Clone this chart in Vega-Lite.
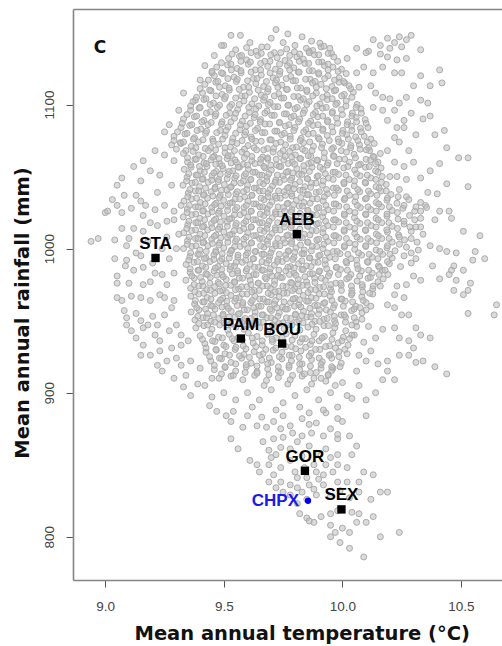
{
"$schema":"https://vega.github.io/schema/vega-lite/v6.json",
"width":429,"height":571,
"autosize":{"type":"none"},
"padding":{"left":73,"top":9,"right":0,"bottom":66},
"background":"white",
"config":{"view":{"stroke":null},"axis":{"grid":false}},
"datasets":{
"sites":[{"site":"AEB","t":9.808,"r":1010},{"site":"STA","t":9.212,"r":993.5},{"site":"PAM","t":9.572,"r":937.6},{"site":"BOU","t":9.746,"r":934.1},{"site":"GOR","t":9.842,"r":845.8},{"site":"SEX","t":9.996,"r":819}],
"chpx":[{"site":"CHPX","t":9.855,"r":825}],
"panel":[{"lab":"C","t":8.978,"r":1139.4}],
"cloud":[
{"t":9.53,"r":1148},{"t":9.57,"r":1148},{"t":9.5,"r":1141},{"t":9.61,"r":1143},{"t":9.66,"r":1140},{"t":9.72,"r":1152},{"t":9.7,"r":1146},{"t":9.77,"r":1149},{"t":9.75,"r":1143},{"t":9.83,"r":1147},{"t":9.8,"r":1141},{"t":9.87,"r":1144},{"t":9.91,"r":1140},{"t":9.86,"r":1137},
{"t":10.13,"r":1145},{"t":10.16,"r":1141},{"t":10.19,"r":1146},{"t":10.22,"r":1143},{"t":10.24,"r":1147},{"t":10.27,"r":1145},{"t":10.29,"r":1148},{"t":10.2,"r":1139},{"t":10.25,"r":1140},{"t":10.33,"r":1138},{"t":10.11,"r":1137},{"t":10.06,"r":1139},
{"t":9.905,"r":1142.6},{"t":9.947,"r":1139},{"t":10.02,"r":1132},{"t":10.1,"r":1136},{"t":10.16,"r":1135},{"t":10.19,"r":1133},{"t":10.23,"r":1131},{"t":10.27,"r":1132},{"t":10.41,"r":1124},{"t":10.33,"r":1120},{"t":10.42,"r":1115},{"t":10.37,"r":1113},{"t":10.3,"r":1113},{"t":10.25,"r":1122},{"t":10.22,"r":1122},{"t":10.17,"r":1126},{"t":10.13,"r":1122},{"t":10.09,"r":1126},{"t":10.06,"r":1122},{"t":10.01,"r":1115},{"t":10.07,"r":1112},{"t":10.12,"r":1113},{"t":10.14,"r":1108},{"t":10.17,"r":1105},{"t":10.2,"r":1104},{"t":10.24,"r":1101},{"t":10.27,"r":1105},{"t":10.33,"r":1103},{"t":10.36,"r":1101},{"t":10.34,"r":1090},{"t":10.37,"r":1092},{"t":10.29,"r":1094},{"t":10.26,"r":1089},{"t":10.22,"r":1096},{"t":10.17,"r":1096},{"t":10.13,"r":1098},{"t":10.19,"r":1089},{"t":10.23,"r":1084},{"t":10.26,"r":1084},{"t":10.31,"r":1079},{"t":10.39,"r":1079},{"t":10.43,"r":1082},{"t":10.44,"r":1070},{"t":10.49,"r":1063},{"t":10.53,"r":1063},{"t":10.41,"r":1059},{"t":10.37,"r":1054},{"t":10.33,"r":1049},{"t":10.36,"r":1039},{"t":10.4,"r":1038},{"t":10.44,"r":1045},{"t":10.53,"r":1043},{"t":10.3,"r":1060},{"t":10.28,"r":1068},{"t":10.24,"r":1074},{"t":10.22,"r":1077},{"t":10.22,"r":1060},{"t":10.26,"r":1057},{"t":10.23,"r":1050},{"t":10.27,"r":1048},{"t":10.24,"r":1041},{"t":10.27,"r":1036},{"t":10.2,"r":1050},{"t":10.19,"r":1068},{"t":10.16,"r":1066},
{"t":9.45,"r":1122},{"t":9.33,"r":1108},{"t":9.25,"r":1081},{"t":9.32,"r":1073},{"t":9.16,"r":1061},{"t":9.12,"r":1057},{"t":9.05,"r":1044},{"t":9.0,"r":1025},{"t":9.07,"r":1049},{"t":9.4,"r":1117},{"t":9.38,"r":1103},{"t":9.31,"r":1096},{"t":9.27,"r":1086},{"t":9.21,"r":1068},{"t":9.25,"r":1065},{"t":9.19,"r":1054},{"t":9.15,"r":1047},{"t":9.08,"r":1037},{"t":9.13,"r":1037},{"t":9.03,"r":1034},{"t":9.23,"r":1051},{"t":9.29,"r":1061},{"t":9.28,"r":1044},{"t":9.22,"r":1039},{"t":9.17,"r":1030},{"t":9.46,"r":1134},{"t":9.49,"r":1141},{"t":9.42,"r":1127},
{"t":8.94,"r":1005},{"t":8.97,"r":1007},{"t":9.04,"r":1006},{"t":9.04,"r":993},{"t":9.09,"r":1002},{"t":9.09,"r":992},{"t":9.15,"r":995},{"t":9.085,"r":988},{"t":9.12,"r":985},{"t":9.16,"r":987},{"t":9.05,"r":981},{"t":9.05,"r":976},{"t":9.1,"r":976},{"t":9.05,"r":966},{"t":9.07,"r":964},{"t":9.11,"r":967},{"t":9.15,"r":966},{"t":9.16,"r":975},{"t":9.19,"r":977},{"t":9.21,"r":983},{"t":9.23,"r":968},{"t":9.19,"r":964},{"t":9.08,"r":957},{"t":9.09,"r":952},{"t":9.13,"r":955},{"t":9.15,"r":950},{"t":9.09,"r":947},{"t":9.11,"r":943},{"t":9.16,"r":945},{"t":9.2,"r":953},{"t":9.18,"r":947},{"t":9.22,"r":947},{"t":9.25,"r":954},{"t":9.28,"r":959},{"t":9.29,"r":964},{"t":9.25,"r":966},{"t":9.26,"r":975},{"t":9.29,"r":983},{"t":9.24,"r":982},{"t":9.13,"r":938},{"t":9.16,"r":933},{"t":9.21,"r":940},{"t":9.23,"r":936},{"t":9.27,"r":943},{"t":9.3,"r":947},{"t":9.32,"r":940},{"t":9.15,"r":926},{"t":9.19,"r":926},{"t":9.23,"r":929},{"t":9.28,"r":931},{"t":9.32,"r":933},{"t":9.35,"r":936},{"t":9.22,"r":919},{"t":9.26,"r":922},{"t":9.3,"r":924},{"t":9.24,"r":915},{"t":9.32,"r":919},{"t":9.36,"r":922},{"t":9.29,"r":910},{"t":9.34,"r":912},{"t":9.4,"r":917},{"t":9.45,"r":910},{"t":9.39,"r":906},
{"t":9.01,"r":1026},{"t":9.05,"r":1030},{"t":9.07,"r":1025},{"t":9.11,"r":1028},{"t":9.15,"r":1033},{"t":9.16,"r":1023},{"t":9.21,"r":1027},{"t":9.25,"r":1030},{"t":9.22,"r":1016},{"t":9.26,"r":1019},{"t":9.29,"r":1026},{"t":9.32,"r":1030},{"t":9.16,"r":1012},{"t":9.12,"r":1014},{"t":9.07,"r":1014},{"t":9.1,"r":1007},{"t":9.3,"r":1000},{"t":9.27,"r":993},{"t":9.31,"r":1010},{"t":9.29,"r":1020},{"t":9.19,"r":1018},{"t":9.24,"r":1000},{"t":9.2,"r":990},{"t":9.18,"r":1005},{"t":9.13,"r":997},{"t":9.26,"r":1008},
{"t":10.41,"r":1026},{"t":10.45,"r":1026},{"t":10.46,"r":1021},{"t":10.51,"r":1012},{"t":10.58,"r":1009},{"t":10.41,"r":1000},{"t":10.44,"r":998},{"t":10.48,"r":997},{"t":10.56,"r":998},{"t":10.55,"r":992},{"t":10.6,"r":993},{"t":10.51,"r":985},{"t":10.47,"r":988},{"t":10.45,"r":982},{"t":10.48,"r":978},{"t":10.54,"r":976},{"t":10.53,"r":971},{"t":10.51,"r":968},{"t":10.47,"r":971},{"t":10.46,"r":985},{"t":10.41,"r":979},{"t":10.38,"r":988},{"t":10.37,"r":1002},{"t":10.33,"r":978},{"t":10.65,"r":961},{"t":10.64,"r":954},{"t":10.53,"r":955},{"t":10.3,"r":981},{"t":10.27,"r":975},{"t":10.23,"r":974},{"t":10.22,"r":968},{"t":10.26,"r":966},{"t":10.28,"r":954},{"t":10.25,"r":954},{"t":10.22,"r":959},{"t":10.19,"r":961},{"t":10.31,"r":945},{"t":10.37,"r":938},{"t":10.33,"r":940},{"t":10.28,"r":936},{"t":10.3,"r":931},{"t":10.24,"r":938},{"t":10.22,"r":945},{"t":10.34,"r":922},{"t":10.39,"r":918},{"t":10.44,"r":913},{"t":10.31,"r":921},{"t":10.28,"r":926},{"t":10.24,"r":926},{"t":10.19,"r":922},{"t":10.15,"r":920},{"t":10.1,"r":922},{"t":10.07,"r":926},{"t":10.12,"r":929},{"t":10.19,"r":915},{"t":10.22,"r":909},{"t":10.17,"r":909},{"t":9.96,"r":917},{"t":9.94,"r":912},{"t":9.91,"r":910},{"t":10.35,"r":1030},{"t":10.39,"r":1020},{"t":10.33,"r":1015},{"t":10.05,"r":940},{"t":10.09,"r":935},{"t":10.14,"r":938},{"t":10.17,"r":944},{"t":10.11,"r":946},{"t":10.06,"r":915},
{"t":9.33,"r":904},{"t":9.36,"r":898},{"t":9.44,"r":891},{"t":9.47,"r":887},{"t":9.51,"r":884},{"t":9.54,"r":887},{"t":9.53,"r":880},{"t":9.6,"r":884},{"t":9.58,"r":876},{"t":9.64,"r":877},{"t":9.66,"r":883},{"t":9.68,"r":876},{"t":9.71,"r":880},{"t":9.75,"r":884},{"t":9.78,"r":877},{"t":9.83,"r":882},{"t":9.86,"r":886},{"t":9.89,"r":879},{"t":9.93,"r":886},{"t":9.98,"r":890},{"t":10.02,"r":898},{"t":10.04,"r":896},{"t":10.1,"r":884},{"t":10.14,"r":900},{"t":9.98,"r":882},{"t":9.95,"r":875},{"t":9.92,"r":870},{"t":9.87,"r":872},{"t":9.83,"r":870},{"t":9.79,"r":872},{"t":9.75,"r":869},{"t":9.71,"r":868},{"t":9.665,"r":866},{"t":9.53,"r":868},{"t":9.56,"r":861},{"t":9.61,"r":853},{"t":9.64,"r":850},{"t":9.65,"r":845},{"t":9.69,"r":850},{"t":9.71,"r":843},{"t":9.74,"r":838},{"t":9.78,"r":836},{"t":9.81,"r":841},{"t":9.85,"r":841},{"t":9.86,"r":836},{"t":9.89,"r":845},{"t":9.92,"r":843},{"t":9.96,"r":845},{"t":9.98,"r":857},{"t":9.98,"r":850},{"t":10.02,"r":848},{"t":10.04,"r":857},{"t":10.02,"r":838},{"t":9.98,"r":838},{"t":10.07,"r":838},{"t":10.09,"r":845},{"t":10.13,"r":843},{"t":10.16,"r":831},{"t":10.19,"r":831},{"t":10.12,"r":826},{"t":10.07,"r":831},{"t":10.06,"r":810},{"t":10.1,"r":810},{"t":10.13,"r":814},{"t":10.16,"r":800},{"t":10.03,"r":803},{"t":10.0,"r":806},{"t":9.97,"r":803},{"t":9.95,"r":800},{"t":9.99,"r":796},{"t":10.03,"r":792},{"t":10.09,"r":786},{"t":9.91,"r":814},{"t":9.88,"r":810},{"t":9.85,"r":813},{"t":9.82,"r":816},{"t":9.81,"r":823},{"t":9.78,"r":829},{"t":9.75,"r":831},{"t":9.83,"r":831},{"t":9.89,"r":829},{"t":9.92,"r":836},{"t":9.95,"r":816},{"t":9.98,"r":818},{"t":10.03,"r":827},{"t":10.04,"r":817},{"t":10.07,"r":816},{"t":9.98,"r":868},{"t":10.0,"r":880},{"t":10.03,"r":870},{"t":10.06,"r":863},{"t":9.93,"r":861},{"t":9.89,"r":858},{"t":9.86,"r":863},{"t":9.81,"r":866},{"t":9.78,"r":861},{"t":9.74,"r":862},{"t":9.72,"r":857},{"t":9.69,"r":860},
{"t":10.24,"r":803},{"t":9.98,"r":871},{"t":9.69,"r":838},{"t":9.72,"r":834},{"t":9.81,"r":834},{"t":9.86,"r":811},{"t":9.95,"r":808},
{"t":9.6,"r":900},{"t":9.65,"r":895},{"t":9.7,"r":902},{"t":9.75,"r":893},{"t":9.8,"r":898},{"t":9.85,"r":902},{"t":9.9,"r":895},{"t":9.95,"r":900},{"t":9.62,"r":890},{"t":9.72,"r":888},{"t":9.82,"r":890},{"t":9.92,"r":888},{"t":9.67,"r":905},{"t":9.77,"r":906},{"t":9.87,"r":906},{"t":9.97,"r":905},{"t":9.55,"r":895},{"t":9.5,"r":900},{"t":9.45,"r":897},{"t":9.42,"r":905},{"t":10.07,"r":905},{"t":10.0,"r":907},{"t":10.1,"r":895},{"t":9.74,"r":875},{"t":9.86,"r":878},{"t":9.95,"r":855},{"t":9.88,"r":850},{"t":9.83,"r":856},{"t":9.78,"r":853},{"t":9.74,"r":848},{"t":9.7,"r":855},{"t":9.8,"r":845},{"t":9.9,"r":840},{"t":9.84,"r":848},{"t":9.93,"r":850},{"t":9.88,"r":833},{"t":9.95,"r":828},{"t":9.99,"r":832},{"t":9.85,"r":826},
{"t":9.55,"r":1138},{"t":9.596,"r":1139.5},{"t":9.636,"r":1137},{"t":9.683,"r":1140},{"t":9.713,"r":1136},{"t":9.765,"r":1138.5},{"t":9.798,"r":1136.5},{"t":9.848,"r":1139},{"t":9.875,"r":1137.5},{"t":9.922,"r":1140.5},{"t":9.954,"r":1135.5},
{"t":9.52,"r":1132},{"t":9.566,"r":1133.5},{"t":9.596,"r":1131},{"t":9.643,"r":1134},{"t":9.673,"r":1130},{"t":9.725,"r":1132.5},{"t":9.758,"r":1130.5},{"t":9.808,"r":1133},{"t":9.835,"r":1131.5},{"t":9.882,"r":1134.5},{"t":9.914,"r":1129.5},{"t":9.964,"r":1133},
{"t":9.47,"r":1126},{"t":9.516,"r":1127.5},{"t":9.556,"r":1125},{"t":9.603,"r":1128},{"t":9.633,"r":1124},{"t":9.685,"r":1126.5},{"t":9.718,"r":1124.5},{"t":9.768,"r":1127},{"t":9.795,"r":1125.5},{"t":9.842,"r":1128.5},{"t":9.874,"r":1123.5},{"t":9.924,"r":1127},{"t":9.96,"r":1126},{"t":9.996,"r":1124.5},
{"t":9.46,"r":1120},{"t":9.496,"r":1121.5},{"t":9.543,"r":1119},{"t":9.573,"r":1122},{"t":9.625,"r":1118},{"t":9.658,"r":1120.5},{"t":9.708,"r":1118.5},{"t":9.735,"r":1121},{"t":9.782,"r":1119.5},{"t":9.814,"r":1122.5},{"t":9.864,"r":1117.5},{"t":9.9,"r":1121},{"t":9.94,"r":1120},{"t":9.986,"r":1118.5},{"t":10.016,"r":1121.5},
{"t":9.42,"r":1114},{"t":9.466,"r":1115.5},{"t":9.506,"r":1113},{"t":9.553,"r":1116},{"t":9.583,"r":1112},{"t":9.635,"r":1114.5},{"t":9.668,"r":1112.5},{"t":9.718,"r":1115},{"t":9.745,"r":1113.5},{"t":9.792,"r":1116.5},{"t":9.824,"r":1111.5},{"t":9.874,"r":1115},{"t":9.91,"r":1114},{"t":9.956,"r":1112.5},{"t":9.986,"r":1115.5},{"t":10.028,"r":1113},
{"t":9.41,"r":1108},{"t":9.446,"r":1109.5},{"t":9.493,"r":1107},{"t":9.523,"r":1110},{"t":9.575,"r":1106},{"t":9.608,"r":1108.5},{"t":9.658,"r":1106.5},{"t":9.685,"r":1109},{"t":9.732,"r":1107.5},{"t":9.764,"r":1110.5},{"t":9.814,"r":1105.5},{"t":9.85,"r":1109},{"t":9.89,"r":1108},{"t":9.936,"r":1106.5},{"t":9.966,"r":1109.5},{"t":10.008,"r":1107},{"t":10.046,"r":1108.5},
{"t":9.37,"r":1102},{"t":9.416,"r":1103.5},{"t":9.456,"r":1101},{"t":9.503,"r":1104},{"t":9.533,"r":1100},{"t":9.585,"r":1102.5},{"t":9.618,"r":1100.5},{"t":9.668,"r":1103},{"t":9.695,"r":1101.5},{"t":9.742,"r":1104.5},{"t":9.774,"r":1099.5},{"t":9.824,"r":1103},{"t":9.86,"r":1102},{"t":9.906,"r":1100.5},{"t":9.936,"r":1103.5},{"t":9.978,"r":1101},{"t":10.016,"r":1102.5},{"t":10.062,"r":1100},
{"t":9.36,"r":1096},{"t":9.396,"r":1097.5},{"t":9.443,"r":1095},{"t":9.473,"r":1098},{"t":9.525,"r":1094},{"t":9.558,"r":1096.5},{"t":9.608,"r":1094.5},{"t":9.635,"r":1097},{"t":9.682,"r":1095.5},{"t":9.714,"r":1098.5},{"t":9.764,"r":1093.5},{"t":9.8,"r":1097},{"t":9.84,"r":1096},{"t":9.886,"r":1094.5},{"t":9.916,"r":1097.5},{"t":9.958,"r":1095},{"t":9.996,"r":1096.5},{"t":10.042,"r":1094},{"t":10.078,"r":1097},
{"t":9.33,"r":1090},{"t":9.376,"r":1091.5},{"t":9.416,"r":1089},{"t":9.463,"r":1092},{"t":9.493,"r":1088},{"t":9.545,"r":1090.5},{"t":9.578,"r":1088.5},{"t":9.628,"r":1091},{"t":9.655,"r":1089.5},{"t":9.702,"r":1092.5},{"t":9.734,"r":1087.5},{"t":9.784,"r":1091},{"t":9.82,"r":1090},{"t":9.866,"r":1088.5},{"t":9.896,"r":1091.5},{"t":9.938,"r":1089},{"t":9.976,"r":1090.5},{"t":10.022,"r":1088},{"t":10.058,"r":1091},{"t":10.096,"r":1089.5},
{"t":9.32,"r":1084},{"t":9.356,"r":1085.5},{"t":9.403,"r":1083},{"t":9.433,"r":1086},{"t":9.485,"r":1082},{"t":9.518,"r":1084.5},{"t":9.568,"r":1082.5},{"t":9.595,"r":1085},{"t":9.642,"r":1083.5},{"t":9.674,"r":1086.5},{"t":9.724,"r":1081.5},{"t":9.76,"r":1085},{"t":9.8,"r":1084},{"t":9.846,"r":1082.5},{"t":9.876,"r":1085.5},{"t":9.918,"r":1083},{"t":9.956,"r":1084.5},{"t":10.002,"r":1082},{"t":10.038,"r":1085},{"t":10.076,"r":1083.5},{"t":10.108,"r":1084},
{"t":9.29,"r":1078},{"t":9.336,"r":1079.5},{"t":9.376,"r":1077},{"t":9.423,"r":1080},{"t":9.453,"r":1076},{"t":9.505,"r":1078.5},{"t":9.538,"r":1076.5},{"t":9.588,"r":1079},{"t":9.615,"r":1077.5},{"t":9.662,"r":1080.5},{"t":9.694,"r":1075.5},{"t":9.744,"r":1079},{"t":9.78,"r":1078},{"t":9.826,"r":1076.5},{"t":9.856,"r":1079.5},{"t":9.898,"r":1077},{"t":9.936,"r":1078.5},{"t":9.982,"r":1076},{"t":10.018,"r":1079},{"t":10.056,"r":1077.5},{"t":10.092,"r":1078},{"t":10.12,"r":1076},
{"t":9.28,"r":1072},{"t":9.316,"r":1073.5},{"t":9.363,"r":1071},{"t":9.393,"r":1074},{"t":9.445,"r":1070},{"t":9.478,"r":1072.5},{"t":9.528,"r":1070.5},{"t":9.555,"r":1073},{"t":9.602,"r":1071.5},{"t":9.634,"r":1074.5},{"t":9.684,"r":1069.5},{"t":9.72,"r":1073},{"t":9.76,"r":1072},{"t":9.806,"r":1070.5},{"t":9.836,"r":1073.5},{"t":9.878,"r":1071},{"t":9.916,"r":1072.5},{"t":9.962,"r":1070},{"t":9.998,"r":1073},{"t":10.036,"r":1071.5},{"t":10.072,"r":1072},{"t":10.11,"r":1070},{"t":10.134,"r":1073},
{"t":9.535,"r":1135},{"t":9.575,"r":1134},{"t":9.615,"r":1136},{"t":9.658,"r":1135.5},{"t":9.698,"r":1134.5},{"t":9.74,"r":1136},{"t":9.778,"r":1134},{"t":9.82,"r":1135},{"t":9.86,"r":1136},{"t":9.9,"r":1134.5},{"t":9.94,"r":1135.5},
{"t":9.49,"r":1129},{"t":9.53,"r":1128},{"t":9.572,"r":1130},{"t":9.612,"r":1129.5},{"t":9.655,"r":1128.5},{"t":9.695,"r":1130},{"t":9.735,"r":1128},{"t":9.777,"r":1129},{"t":9.818,"r":1130},{"t":9.858,"r":1128.5},{"t":9.9,"r":1129.5},{"t":9.94,"r":1128},{"t":9.98,"r":1130},
{"t":9.45,"r":1123},{"t":9.49,"r":1122},{"t":9.532,"r":1124},{"t":9.572,"r":1123.5},{"t":9.615,"r":1122.5},{"t":9.655,"r":1124},{"t":9.695,"r":1122},{"t":9.737,"r":1123},{"t":9.778,"r":1124},{"t":9.818,"r":1122.5},{"t":9.86,"r":1123.5},{"t":9.9,"r":1122},{"t":9.94,"r":1124},{"t":9.982,"r":1123},
{"t":9.435,"r":1117},{"t":9.475,"r":1116},{"t":9.517,"r":1118},{"t":9.557,"r":1117.5},{"t":9.6,"r":1116.5},{"t":9.64,"r":1118},{"t":9.68,"r":1116},{"t":9.722,"r":1117},{"t":9.763,"r":1118},{"t":9.803,"r":1116.5},{"t":9.845,"r":1117.5},{"t":9.885,"r":1116},{"t":9.925,"r":1118},{"t":9.967,"r":1117},{"t":10.005,"r":1116},
{"t":9.4,"r":1111},{"t":9.44,"r":1110},{"t":9.482,"r":1112},{"t":9.522,"r":1111.5},{"t":9.565,"r":1110.5},{"t":9.605,"r":1112},{"t":9.645,"r":1110},{"t":9.687,"r":1111},{"t":9.728,"r":1112},{"t":9.768,"r":1110.5},{"t":9.81,"r":1111.5},{"t":9.85,"r":1110},{"t":9.89,"r":1112},{"t":9.932,"r":1111},{"t":9.972,"r":1110},{"t":10.035,"r":1111},
{"t":9.385,"r":1105},{"t":9.425,"r":1104},{"t":9.467,"r":1106},{"t":9.507,"r":1105.5},{"t":9.55,"r":1104.5},{"t":9.59,"r":1106},{"t":9.63,"r":1104},{"t":9.672,"r":1105},{"t":9.713,"r":1106},{"t":9.753,"r":1104.5},{"t":9.795,"r":1105.5},{"t":9.835,"r":1104},{"t":9.875,"r":1106},{"t":9.917,"r":1105},{"t":9.957,"r":1104},{"t":9.997,"r":1106},{"t":10.04,"r":1105},
{"t":9.36,"r":1099},{"t":9.4,"r":1098},{"t":9.442,"r":1100},{"t":9.482,"r":1099.5},{"t":9.525,"r":1098.5},{"t":9.565,"r":1100},{"t":9.605,"r":1098},{"t":9.647,"r":1099},{"t":9.688,"r":1100},{"t":9.728,"r":1098.5},{"t":9.77,"r":1099.5},{"t":9.81,"r":1098},{"t":9.85,"r":1100},{"t":9.892,"r":1099},{"t":9.932,"r":1098},{"t":9.972,"r":1100},{"t":10.015,"r":1099},{"t":10.058,"r":1098},
{"t":9.345,"r":1093},{"t":9.385,"r":1092},{"t":9.427,"r":1094},{"t":9.467,"r":1093.5},{"t":9.51,"r":1092.5},{"t":9.55,"r":1094},{"t":9.59,"r":1092},{"t":9.632,"r":1093},{"t":9.673,"r":1094},{"t":9.713,"r":1092.5},{"t":9.755,"r":1093.5},{"t":9.795,"r":1092},{"t":9.835,"r":1094},{"t":9.877,"r":1093},{"t":9.917,"r":1092},{"t":9.957,"r":1094},{"t":10.0,"r":1093},{"t":10.04,"r":1092},{"t":10.08,"r":1094},
{"t":9.325,"r":1087},{"t":9.365,"r":1086},{"t":9.407,"r":1088},{"t":9.447,"r":1087.5},{"t":9.49,"r":1086.5},{"t":9.53,"r":1088},{"t":9.57,"r":1086},{"t":9.612,"r":1087},{"t":9.653,"r":1088},{"t":9.693,"r":1086.5},{"t":9.735,"r":1087.5},{"t":9.775,"r":1086},{"t":9.815,"r":1088},{"t":9.857,"r":1087},{"t":9.897,"r":1086},{"t":9.937,"r":1088},{"t":9.98,"r":1087},{"t":10.02,"r":1086},{"t":10.06,"r":1088},{"t":10.1,"r":1087},
{"t":9.305,"r":1081},{"t":9.345,"r":1080},{"t":9.387,"r":1082},{"t":9.427,"r":1081.5},{"t":9.47,"r":1080.5},{"t":9.51,"r":1082},{"t":9.55,"r":1080},{"t":9.592,"r":1081},{"t":9.633,"r":1082},{"t":9.673,"r":1080.5},{"t":9.715,"r":1081.5},{"t":9.755,"r":1080},{"t":9.795,"r":1082},{"t":9.837,"r":1081},{"t":9.877,"r":1080},{"t":9.917,"r":1082},{"t":9.96,"r":1081},{"t":10.0,"r":1080},{"t":10.04,"r":1082},{"t":10.08,"r":1081},
{"t":9.29,"r":1075},{"t":9.33,"r":1074},{"t":9.372,"r":1076},{"t":9.412,"r":1075.5},{"t":9.455,"r":1074.5},{"t":9.495,"r":1076},{"t":9.535,"r":1074},{"t":9.577,"r":1075},{"t":9.618,"r":1076},{"t":9.658,"r":1074.5},{"t":9.7,"r":1075.5},{"t":9.74,"r":1074},{"t":9.78,"r":1076},{"t":9.822,"r":1075},{"t":9.862,"r":1074},{"t":9.902,"r":1076},{"t":9.945,"r":1075},{"t":9.985,"r":1074},{"t":10.025,"r":1076},{"t":10.065,"r":1075},{"t":10.105,"r":1074},
{"t":9.3,"r":1069},{"t":9.34,"r":1068},{"t":9.382,"r":1070},{"t":9.422,"r":1069.5},{"t":9.465,"r":1068.5},{"t":9.505,"r":1070},{"t":9.545,"r":1068},{"t":9.587,"r":1069},{"t":9.628,"r":1070},{"t":9.668,"r":1068.5},{"t":9.71,"r":1069.5},{"t":9.75,"r":1068},{"t":9.79,"r":1070},{"t":9.832,"r":1069},{"t":9.872,"r":1068},{"t":9.912,"r":1070},{"t":9.955,"r":1069},{"t":9.995,"r":1068},{"t":10.035,"r":1070},{"t":10.075,"r":1069},{"t":10.115,"r":1068},
{"t":9.33,"r":1066},{"t":9.37,"r":1067.5},{"t":9.394,"r":1065},{"t":9.435,"r":1068},{"t":9.459,"r":1064},{"t":9.505,"r":1066.5},{"t":9.532,"r":1064.5},{"t":9.576,"r":1067},{"t":9.597,"r":1065.5},{"t":9.638,"r":1068.5},{"t":9.664,"r":1063.5},{"t":9.708,"r":1067},{"t":9.738,"r":1066},{"t":9.778,"r":1067.5},{"t":9.802,"r":1065},{"t":9.843,"r":1068},{"t":9.867,"r":1064},{"t":9.924,"r":1066.5},{"t":9.962,"r":1064.5},{"t":10.017,"r":1067},{"t":10.049,"r":1065.5},{"t":10.101,"r":1068.5},{"t":10.134,"r":1063.5},
{"t":9.347,"r":1060},{"t":9.378,"r":1062},{"t":9.416,"r":1059.5},{"t":9.446,"r":1061.5},{"t":9.483,"r":1059},{"t":9.514,"r":1062.5},{"t":9.553,"r":1060},{"t":9.582,"r":1058.5},{"t":9.618,"r":1061},{"t":9.654,"r":1059.5},{"t":9.685,"r":1062},{"t":9.722,"r":1058},{"t":9.752,"r":1061.5},{"t":9.789,"r":1060},{"t":9.82,"r":1062.5},{"t":9.857,"r":1059},{"t":9.896,"r":1061},{"t":9.94,"r":1059.5},{"t":9.987,"r":1062},{"t":10.03,"r":1060},{"t":10.076,"r":1058.5},{"t":10.118,"r":1061.5},{"t":10.15,"r":1060},
{"t":9.333,"r":1055},{"t":9.362,"r":1056.5},{"t":9.401,"r":1054},{"t":9.429,"r":1057},{"t":9.468,"r":1053.5},{"t":9.497,"r":1055.5},{"t":9.537,"r":1054},{"t":9.566,"r":1056.5},{"t":9.604,"r":1055},{"t":9.633,"r":1053},{"t":9.673,"r":1056},{"t":9.7,"r":1054.5},{"t":9.741,"r":1057},{"t":9.771,"r":1053.5},{"t":9.808,"r":1055.5},{"t":9.838,"r":1054},{"t":9.872,"r":1056.5},{"t":9.918,"r":1055},{"t":9.961,"r":1053},{"t":10.006,"r":1056},{"t":10.052,"r":1054.5},{"t":10.097,"r":1056.5},{"t":10.14,"r":1054},{"t":10.163,"r":1056},
{"t":9.345,"r":1049.5},{"t":9.383,"r":1051},{"t":9.412,"r":1048.5},{"t":9.45,"r":1050.5},{"t":9.478,"r":1048},{"t":9.517,"r":1051.5},{"t":9.546,"r":1049},{"t":9.586,"r":1050.5},{"t":9.613,"r":1048},{"t":9.651,"r":1051},{"t":9.682,"r":1049.5},{"t":9.719,"r":1047.5},{"t":9.749,"r":1050.5},{"t":9.787,"r":1049},{"t":9.816,"r":1051.5},{"t":9.853,"r":1048.5},{"t":9.893,"r":1050},{"t":9.941,"r":1049},{"t":9.984,"r":1051.5},{"t":10.029,"r":1048},{"t":10.075,"r":1050.5},{"t":10.12,"r":1049},{"t":10.168,"r":1050},
{"t":9.328,"r":1044},{"t":9.366,"r":1045.5},{"t":9.398,"r":1043},{"t":9.434,"r":1046},{"t":9.463,"r":1042.5},{"t":9.502,"r":1044.5},{"t":9.531,"r":1043},{"t":9.571,"r":1045.5},{"t":9.6,"r":1044},{"t":9.637,"r":1042},{"t":9.667,"r":1045},{"t":9.705,"r":1043.5},{"t":9.735,"r":1046},{"t":9.774,"r":1042.5},{"t":9.801,"r":1044.5},{"t":9.842,"r":1043},{"t":9.87,"r":1045.5},{"t":9.916,"r":1044},{"t":9.962,"r":1042},{"t":10.007,"r":1045},{"t":10.05,"r":1043.5},{"t":10.098,"r":1045.5},{"t":10.142,"r":1043},{"t":10.185,"r":1044.5},
{"t":9.35,"r":1038.5},{"t":9.38,"r":1040},{"t":9.417,"r":1037.5},{"t":9.447,"r":1039.5},{"t":9.485,"r":1037},{"t":9.513,"r":1040.5},{"t":9.551,"r":1038},{"t":9.583,"r":1039.5},{"t":9.618,"r":1037},{"t":9.65,"r":1040},{"t":9.687,"r":1038.5},{"t":9.716,"r":1036.5},{"t":9.754,"r":1039.5},{"t":9.786,"r":1038},{"t":9.821,"r":1040.5},{"t":9.851,"r":1037.5},{"t":9.89,"r":1039},{"t":9.937,"r":1038},{"t":9.983,"r":1040.5},{"t":10.03,"r":1037},{"t":10.073,"r":1039.5},{"t":10.119,"r":1038},{"t":10.163,"r":1040},{"t":10.205,"r":1037.5},
{"t":9.332,"r":1033},{"t":9.364,"r":1034.5},{"t":9.401,"r":1032},{"t":9.431,"r":1035},{"t":9.468,"r":1031.5},{"t":9.499,"r":1033.5},{"t":9.536,"r":1032},{"t":9.567,"r":1034.5},{"t":9.602,"r":1033},{"t":9.636,"r":1031},{"t":9.67,"r":1034},{"t":9.703,"r":1032.5},{"t":9.738,"r":1035},{"t":9.77,"r":1031.5},{"t":9.806,"r":1033.5},{"t":9.838,"r":1032},{"t":9.874,"r":1034.5},{"t":9.919,"r":1033},{"t":9.965,"r":1031},{"t":10.008,"r":1034},{"t":10.053,"r":1032.5},{"t":10.097,"r":1034.5},{"t":10.143,"r":1032},{"t":10.188,"r":1033.5},{"t":10.23,"r":1031.5},{"t":10.28,"r":1034},{"t":10.33,"r":1032},
{"t":9.346,"r":1027.5},{"t":9.381,"r":1029},{"t":9.414,"r":1026.5},{"t":9.449,"r":1028.5},{"t":9.481,"r":1026},{"t":9.516,"r":1029.5},{"t":9.548,"r":1027},{"t":9.585,"r":1028.5},{"t":9.615,"r":1026},{"t":9.652,"r":1029},{"t":9.683,"r":1027.5},{"t":9.718,"r":1025.5},{"t":9.751,"r":1028.5},{"t":9.787,"r":1027},{"t":9.818,"r":1029.5},{"t":9.855,"r":1026.5},{"t":9.893,"r":1028},{"t":9.939,"r":1027},{"t":9.985,"r":1029.5},{"t":10.03,"r":1026},{"t":10.076,"r":1028.5},{"t":10.12,"r":1027},{"t":10.165,"r":1029},{"t":10.21,"r":1026.5},{"t":10.255,"r":1028},{"t":10.305,"r":1026},{"t":10.355,"r":1028.5},
{"t":9.329,"r":1022},{"t":9.365,"r":1023.5},{"t":9.399,"r":1021},{"t":9.433,"r":1024},{"t":9.466,"r":1020.5},{"t":9.501,"r":1022.5},{"t":9.533,"r":1021},{"t":9.569,"r":1023.5},{"t":9.601,"r":1022},{"t":9.635,"r":1020},{"t":9.669,"r":1023},{"t":9.704,"r":1021.5},{"t":9.737,"r":1024},{"t":9.772,"r":1020.5},{"t":9.804,"r":1022.5},{"t":9.84,"r":1021},{"t":9.873,"r":1023.5},{"t":9.917,"r":1022},{"t":9.963,"r":1020},{"t":10.009,"r":1023},{"t":10.051,"r":1021.5},{"t":10.099,"r":1023.5},{"t":10.142,"r":1021},{"t":10.188,"r":1022.5},{"t":10.235,"r":1020.5},{"t":10.283,"r":1023},{"t":10.33,"r":1021},
{"t":9.348,"r":1016.5},{"t":9.382,"r":1018},{"t":9.415,"r":1015.5},{"t":9.448,"r":1017.5},{"t":9.483,"r":1015},{"t":9.515,"r":1018.5},{"t":9.55,"r":1016},{"t":9.584,"r":1017.5},{"t":9.616,"r":1015},{"t":9.651,"r":1018},{"t":9.685,"r":1016.5},{"t":9.717,"r":1014.5},{"t":9.752,"r":1017.5},{"t":9.786,"r":1016},{"t":9.819,"r":1018.5},{"t":9.854,"r":1015.5},{"t":9.891,"r":1017},{"t":9.938,"r":1016},{"t":9.984,"r":1018.5},{"t":10.031,"r":1015},{"t":10.074,"r":1017.5},{"t":10.121,"r":1016},{"t":10.166,"r":1018},{"t":10.21,"r":1015.5},{"t":10.26,"r":1017},{"t":10.31,"r":1015},
{"t":9.331,"r":1011},{"t":9.364,"r":1012.5},{"t":9.4,"r":1010},{"t":9.432,"r":1013},{"t":9.467,"r":1009.5},{"t":9.5,"r":1011.5},{"t":9.535,"r":1010},{"t":9.568,"r":1012.5},{"t":9.601,"r":1011},{"t":9.636,"r":1009},{"t":9.67,"r":1012},{"t":9.703,"r":1010.5},{"t":9.737,"r":1013},{"t":9.771,"r":1009.5},{"t":9.805,"r":1011.5},{"t":9.839,"r":1010},{"t":9.872,"r":1012.5},{"t":9.918,"r":1011},{"t":9.964,"r":1009},{"t":10.008,"r":1012},{"t":10.052,"r":1010.5},{"t":10.098,"r":1012.5},{"t":10.143,"r":1010},{"t":10.19,"r":1011.5},{"t":10.237,"r":1009.5},{"t":10.29,"r":1012},{"t":10.34,"r":1010},
{"t":9.347,"r":1005.5},{"t":9.381,"r":1007},{"t":9.415,"r":1004.5},{"t":9.449,"r":1006.5},{"t":9.482,"r":1004},{"t":9.516,"r":1007.5},{"t":9.549,"r":1005},{"t":9.584,"r":1006.5},{"t":9.616,"r":1004},{"t":9.651,"r":1007},{"t":9.684,"r":1005.5},{"t":9.718,"r":1003.5},{"t":9.751,"r":1006.5},{"t":9.786,"r":1005},{"t":9.819,"r":1007.5},{"t":9.853,"r":1004.5},{"t":9.892,"r":1006},{"t":9.938,"r":1005},{"t":9.985,"r":1007.5},{"t":10.03,"r":1004},{"t":10.075,"r":1006.5},{"t":10.12,"r":1005},{"t":10.166,"r":1007},{"t":10.21,"r":1004.5},{"t":10.262,"r":1006},{"t":10.315,"r":1004.5},
{"t":9.33,"r":1000},{"t":9.365,"r":1001.5},{"t":9.399,"r":999},{"t":9.433,"r":1002},{"t":9.466,"r":998.5},{"t":9.5,"r":1000.5},{"t":9.534,"r":999},{"t":9.569,"r":1001.5},{"t":9.601,"r":1000},{"t":9.635,"r":998},{"t":9.669,"r":1001},{"t":9.704,"r":999.5},{"t":9.737,"r":1002},{"t":9.772,"r":998.5},{"t":9.804,"r":1000.5},{"t":9.839,"r":999},{"t":9.873,"r":1001.5},{"t":9.918,"r":1000},{"t":9.962,"r":998},{"t":10.008,"r":1001},{"t":10.052,"r":999.5},{"t":10.098,"r":1001.5},{"t":10.142,"r":999},{"t":10.188,"r":1000.5},{"t":10.222,"r":998.5},{"t":10.27,"r":1001},{"t":10.32,"r":999},
{"t":9.357,"r":994.5},{"t":9.39,"r":996},{"t":9.425,"r":993.5},{"t":9.458,"r":995.5},{"t":9.492,"r":993},{"t":9.526,"r":996.5},{"t":9.559,"r":994},{"t":9.594,"r":995.5},{"t":9.626,"r":993},{"t":9.661,"r":996},{"t":9.694,"r":994.5},{"t":9.728,"r":992.5},{"t":9.761,"r":995.5},{"t":9.796,"r":994},{"t":9.829,"r":996.5},{"t":9.863,"r":993.5},{"t":9.9,"r":995},{"t":9.946,"r":994},{"t":9.99,"r":996.5},{"t":10.036,"r":993},{"t":10.081,"r":995.5},{"t":10.126,"r":994},{"t":10.17,"r":996},{"t":10.21,"r":993.5},{"t":10.26,"r":995},{"t":10.31,"r":993},
{"t":9.341,"r":989},{"t":9.374,"r":990.5},{"t":9.41,"r":988},{"t":9.442,"r":991},{"t":9.476,"r":987.5},{"t":9.51,"r":989.5},{"t":9.545,"r":988},{"t":9.578,"r":990.5},{"t":9.611,"r":989},{"t":9.646,"r":987},{"t":9.68,"r":990},{"t":9.713,"r":988.5},{"t":9.747,"r":991},{"t":9.781,"r":987.5},{"t":9.815,"r":989.5},{"t":9.849,"r":988},{"t":9.882,"r":990.5},{"t":9.928,"r":989},{"t":9.974,"r":987},{"t":10.018,"r":990},{"t":10.062,"r":988.5},{"t":10.108,"r":990.5},{"t":10.152,"r":988},{"t":10.198,"r":989.5},{"t":10.245,"r":987.5},{"t":10.29,"r":990},
{"t":9.358,"r":983.5},{"t":9.391,"r":985},{"t":9.425,"r":982.5},{"t":9.459,"r":984.5},{"t":9.492,"r":982},{"t":9.526,"r":985.5},{"t":9.559,"r":983},{"t":9.594,"r":984.5},{"t":9.626,"r":982},{"t":9.661,"r":985},{"t":9.694,"r":983.5},{"t":9.728,"r":981.5},{"t":9.761,"r":984.5},{"t":9.796,"r":983},{"t":9.829,"r":985.5},{"t":9.863,"r":982.5},{"t":9.901,"r":984},{"t":9.946,"r":983},{"t":9.992,"r":985.5},{"t":10.036,"r":982},{"t":10.08,"r":984.5},{"t":10.126,"r":983},{"t":10.168,"r":985},{"t":10.192,"r":982},
{"t":9.34,"r":978},{"t":9.375,"r":979.5},{"t":9.409,"r":977},{"t":9.443,"r":980},{"t":9.476,"r":976.5},{"t":9.51,"r":978.5},{"t":9.544,"r":977},{"t":9.579,"r":979.5},{"t":9.611,"r":978},{"t":9.645,"r":976},{"t":9.679,"r":979},{"t":9.714,"r":977.5},{"t":9.747,"r":980},{"t":9.782,"r":976.5},{"t":9.814,"r":978.5},{"t":9.849,"r":977},{"t":9.883,"r":979.5},{"t":9.928,"r":978},{"t":9.972,"r":976},{"t":10.018,"r":979},{"t":10.062,"r":977.5},{"t":10.108,"r":979.5},{"t":10.15,"r":977},{"t":10.172,"r":979},
{"t":9.36,"r":972.5},{"t":9.394,"r":974},{"t":9.428,"r":971.5},{"t":9.461,"r":973.5},{"t":9.495,"r":971},{"t":9.529,"r":974.5},{"t":9.562,"r":972},{"t":9.597,"r":973.5},{"t":9.629,"r":971},{"t":9.664,"r":974},{"t":9.697,"r":972.5},{"t":9.731,"r":970.5},{"t":9.764,"r":973.5},{"t":9.799,"r":972},{"t":9.832,"r":974.5},{"t":9.866,"r":971.5},{"t":9.904,"r":973},{"t":9.95,"r":972},{"t":9.995,"r":974.5},{"t":10.04,"r":971},{"t":10.084,"r":973.5},{"t":10.128,"r":972},{"t":10.16,"r":974},
{"t":9.361,"r":967},{"t":9.394,"r":968.5},{"t":9.43,"r":966},{"t":9.462,"r":969},{"t":9.496,"r":965.5},{"t":9.53,"r":967.5},{"t":9.565,"r":966},{"t":9.598,"r":968.5},{"t":9.631,"r":967},{"t":9.666,"r":965},{"t":9.7,"r":968},{"t":9.733,"r":966.5},{"t":9.767,"r":969},{"t":9.801,"r":965.5},{"t":9.835,"r":967.5},{"t":9.869,"r":966},{"t":9.902,"r":968.5},{"t":9.948,"r":967},{"t":9.994,"r":965},{"t":10.038,"r":968},{"t":10.082,"r":966.5},{"t":10.128,"r":968.5},
{"t":9.377,"r":961.5},{"t":9.411,"r":963},{"t":9.445,"r":960.5},{"t":9.478,"r":962.5},{"t":9.512,"r":960},{"t":9.546,"r":963.5},{"t":9.579,"r":961},{"t":9.614,"r":962.5},{"t":9.646,"r":960},{"t":9.681,"r":963},{"t":9.714,"r":961.5},{"t":9.748,"r":959.5},{"t":9.781,"r":962.5},{"t":9.816,"r":961},{"t":9.849,"r":963.5},{"t":9.883,"r":960.5},{"t":9.921,"r":962},{"t":9.966,"r":961},{"t":10.012,"r":963.5},{"t":10.056,"r":960},{"t":10.1,"r":962.5},{"t":10.12,"r":960},
{"t":9.362,"r":956},{"t":9.395,"r":957.5},{"t":9.431,"r":955},{"t":9.463,"r":958},{"t":9.497,"r":954.5},{"t":9.531,"r":956.5},{"t":9.566,"r":955},{"t":9.599,"r":957.5},{"t":9.632,"r":956},{"t":9.667,"r":954},{"t":9.701,"r":957},{"t":9.734,"r":955.5},{"t":9.768,"r":958},{"t":9.802,"r":954.5},{"t":9.836,"r":956.5},{"t":9.87,"r":955},{"t":9.903,"r":957.5},{"t":9.949,"r":956},{"t":9.995,"r":954},{"t":10.039,"r":957},{"t":10.083,"r":955.5},{"t":10.1,"r":957.5},
{"t":9.378,"r":950.5},{"t":9.412,"r":952},{"t":9.446,"r":949.5},{"t":9.479,"r":951.5},{"t":9.513,"r":949},{"t":9.547,"r":952.5},{"t":9.58,"r":950},{"t":9.615,"r":951.5},{"t":9.647,"r":949},{"t":9.682,"r":952},{"t":9.715,"r":950.5},{"t":9.749,"r":948.5},{"t":9.782,"r":951.5},{"t":9.817,"r":950},{"t":9.85,"r":952.5},{"t":9.884,"r":949.5},{"t":9.922,"r":951},{"t":9.967,"r":950},{"t":10.013,"r":952.5},{"t":10.057,"r":949},{"t":10.082,"r":951},
{"t":9.382,"r":945},{"t":9.416,"r":946.5},{"t":9.45,"r":944},{"t":9.483,"r":947},{"t":9.517,"r":943.5},{"t":9.551,"r":945.5},{"t":9.585,"r":944},{"t":9.619,"r":946.5},{"t":9.652,"r":945},{"t":9.686,"r":943},{"t":9.72,"r":946},{"t":9.754,"r":944.5},{"t":9.787,"r":947},{"t":9.821,"r":943.5},{"t":9.855,"r":945.5},{"t":9.889,"r":944},{"t":9.922,"r":946.5},{"t":9.968,"r":945},{"t":10.014,"r":943},{"t":10.06,"r":946},
{"t":9.347,"r":1063},{"t":9.384,"r":1062},{"t":9.413,"r":1064},{"t":9.453,"r":1063.5},{"t":9.48,"r":1062.5},{"t":9.518,"r":1064.5},{"t":9.547,"r":1061.5},{"t":9.587,"r":1063},{"t":9.618,"r":1064},{"t":9.656,"r":1062},{"t":9.685,"r":1063},{"t":9.721,"r":1062},{"t":9.759,"r":1064},{"t":9.786,"r":1063.5},{"t":9.824,"r":1062.5},{"t":9.856,"r":1064.5},{"t":9.893,"r":1061.5},{"t":9.923,"r":1063},{"t":9.965,"r":1064},{"t":10.01,"r":1062},{"t":10.055,"r":1063},{"t":10.1,"r":1062},{"t":10.13,"r":1064},
{"t":9.36,"r":1058},{"t":9.397,"r":1057},{"t":9.426,"r":1059},{"t":9.466,"r":1058.5},{"t":9.493,"r":1057.5},{"t":9.531,"r":1059.5},{"t":9.56,"r":1056.5},{"t":9.6,"r":1058},{"t":9.631,"r":1059},{"t":9.669,"r":1057},{"t":9.698,"r":1058},{"t":9.734,"r":1057},{"t":9.772,"r":1059},{"t":9.799,"r":1058.5},{"t":9.837,"r":1057.5},{"t":9.869,"r":1059.5},{"t":9.906,"r":1056.5},{"t":9.936,"r":1058},{"t":9.978,"r":1059},{"t":10.023,"r":1057},{"t":10.068,"r":1058},{"t":10.113,"r":1057},{"t":10.14,"r":1059},
{"t":9.352,"r":1052},{"t":9.389,"r":1051},{"t":9.418,"r":1053},{"t":9.458,"r":1052.5},{"t":9.485,"r":1051.5},{"t":9.523,"r":1053.5},{"t":9.552,"r":1050.5},{"t":9.592,"r":1052},{"t":9.623,"r":1053},{"t":9.661,"r":1051},{"t":9.69,"r":1052},{"t":9.726,"r":1051},{"t":9.764,"r":1053},{"t":9.791,"r":1052.5},{"t":9.829,"r":1051.5},{"t":9.861,"r":1053.5},{"t":9.898,"r":1050.5},{"t":9.928,"r":1052},{"t":9.97,"r":1053},{"t":10.015,"r":1051},{"t":10.06,"r":1052},{"t":10.105,"r":1051},{"t":10.15,"r":1053},
{"t":9.343,"r":1047},{"t":9.38,"r":1046},{"t":9.409,"r":1048},{"t":9.449,"r":1047.5},{"t":9.476,"r":1046.5},{"t":9.514,"r":1048.5},{"t":9.543,"r":1045.5},{"t":9.583,"r":1047},{"t":9.614,"r":1048},{"t":9.652,"r":1046},{"t":9.681,"r":1047},{"t":9.717,"r":1046},{"t":9.755,"r":1048},{"t":9.782,"r":1047.5},{"t":9.82,"r":1046.5},{"t":9.852,"r":1048.5},{"t":9.889,"r":1045.5},{"t":9.919,"r":1047},{"t":9.961,"r":1048},{"t":10.006,"r":1046},{"t":10.051,"r":1047},{"t":10.096,"r":1046},{"t":10.141,"r":1048},{"t":10.165,"r":1046},
{"t":9.357,"r":1041},{"t":9.394,"r":1040},{"t":9.423,"r":1042},{"t":9.463,"r":1041.5},{"t":9.49,"r":1040.5},{"t":9.528,"r":1042.5},{"t":9.557,"r":1039.5},{"t":9.597,"r":1041},{"t":9.628,"r":1042},{"t":9.666,"r":1040},{"t":9.695,"r":1041},{"t":9.731,"r":1040},{"t":9.769,"r":1042},{"t":9.796,"r":1041.5},{"t":9.834,"r":1040.5},{"t":9.866,"r":1042.5},{"t":9.903,"r":1039.5},{"t":9.933,"r":1041},{"t":9.975,"r":1042},{"t":10.02,"r":1040},{"t":10.065,"r":1041},{"t":10.11,"r":1040},{"t":10.155,"r":1042},{"t":10.185,"r":1040},
{"t":9.348,"r":1036},{"t":9.385,"r":1035},{"t":9.414,"r":1037},{"t":9.454,"r":1036.5},{"t":9.481,"r":1035.5},{"t":9.519,"r":1037.5},{"t":9.548,"r":1034.5},{"t":9.588,"r":1036},{"t":9.619,"r":1037},{"t":9.657,"r":1035},{"t":9.686,"r":1036},{"t":9.722,"r":1035},{"t":9.76,"r":1037},{"t":9.787,"r":1036.5},{"t":9.825,"r":1035.5},{"t":9.857,"r":1037.5},{"t":9.894,"r":1034.5},{"t":9.924,"r":1036},{"t":9.966,"r":1037},{"t":10.011,"r":1035},{"t":10.056,"r":1036},{"t":10.101,"r":1035},{"t":10.146,"r":1037},{"t":10.19,"r":1035},{"t":10.235,"r":1036},
{"t":9.355,"r":1030},{"t":9.392,"r":1029},{"t":9.421,"r":1031},{"t":9.461,"r":1030.5},{"t":9.488,"r":1029.5},{"t":9.526,"r":1031.5},{"t":9.555,"r":1028.5},{"t":9.595,"r":1030},{"t":9.626,"r":1031},{"t":9.664,"r":1029},{"t":9.693,"r":1030},{"t":9.729,"r":1029},{"t":9.767,"r":1031},{"t":9.794,"r":1030.5},{"t":9.832,"r":1029.5},{"t":9.864,"r":1031.5},{"t":9.901,"r":1028.5},{"t":9.931,"r":1030},{"t":9.973,"r":1031},{"t":10.018,"r":1029},{"t":10.063,"r":1030},{"t":10.108,"r":1029},{"t":10.153,"r":1031},{"t":10.198,"r":1029},{"t":10.26,"r":1030},{"t":10.31,"r":1029},
{"t":9.345,"r":1025},{"t":9.382,"r":1024},{"t":9.411,"r":1026},{"t":9.451,"r":1025.5},{"t":9.478,"r":1024.5},{"t":9.516,"r":1026.5},{"t":9.545,"r":1023.5},{"t":9.585,"r":1025},{"t":9.616,"r":1026},{"t":9.654,"r":1024},{"t":9.683,"r":1025},{"t":9.719,"r":1024},{"t":9.757,"r":1026},{"t":9.784,"r":1025.5},{"t":9.822,"r":1024.5},{"t":9.854,"r":1026.5},{"t":9.891,"r":1023.5},{"t":9.921,"r":1025},{"t":9.963,"r":1026},{"t":10.008,"r":1024},{"t":10.053,"r":1025},{"t":10.098,"r":1024},{"t":10.143,"r":1026},{"t":10.188,"r":1024},{"t":10.232,"r":1025},{"t":10.33,"r":1026},
{"t":9.353,"r":1019},{"t":9.39,"r":1018},{"t":9.419,"r":1020},{"t":9.459,"r":1019.5},{"t":9.486,"r":1018.5},{"t":9.524,"r":1020.5},{"t":9.553,"r":1017.5},{"t":9.593,"r":1019},{"t":9.624,"r":1020},{"t":9.662,"r":1018},{"t":9.691,"r":1019},{"t":9.727,"r":1018},{"t":9.765,"r":1020},{"t":9.792,"r":1019.5},{"t":9.83,"r":1018.5},{"t":9.862,"r":1020.5},{"t":9.899,"r":1017.5},{"t":9.929,"r":1019},{"t":9.971,"r":1020},{"t":10.016,"r":1018},{"t":10.061,"r":1019},{"t":10.106,"r":1018},{"t":10.151,"r":1020},{"t":10.196,"r":1018},{"t":10.26,"r":1019},{"t":10.305,"r":1020},
{"t":9.344,"r":1014},{"t":9.381,"r":1013},{"t":9.41,"r":1015},{"t":9.45,"r":1014.5},{"t":9.477,"r":1013.5},{"t":9.515,"r":1015.5},{"t":9.544,"r":1012.5},{"t":9.584,"r":1014},{"t":9.615,"r":1015},{"t":9.653,"r":1013},{"t":9.682,"r":1014},{"t":9.718,"r":1013},{"t":9.756,"r":1015},{"t":9.783,"r":1014.5},{"t":9.821,"r":1013.5},{"t":9.853,"r":1015.5},{"t":9.89,"r":1012.5},{"t":9.92,"r":1014},{"t":9.962,"r":1015},{"t":10.007,"r":1013},{"t":10.052,"r":1014},{"t":10.097,"r":1013},{"t":10.142,"r":1015},{"t":10.187,"r":1013},{"t":10.232,"r":1014},{"t":10.285,"r":1015},
{"t":9.354,"r":1008},{"t":9.391,"r":1007},{"t":9.42,"r":1009},{"t":9.46,"r":1008.5},{"t":9.487,"r":1007.5},{"t":9.525,"r":1009.5},{"t":9.554,"r":1006.5},{"t":9.594,"r":1008},{"t":9.625,"r":1009},{"t":9.663,"r":1007},{"t":9.692,"r":1008},{"t":9.728,"r":1007},{"t":9.766,"r":1009},{"t":9.793,"r":1008.5},{"t":9.831,"r":1007.5},{"t":9.863,"r":1009.5},{"t":9.9,"r":1006.5},{"t":9.93,"r":1008},{"t":9.972,"r":1009},{"t":10.017,"r":1007},{"t":10.062,"r":1008},{"t":10.107,"r":1007},{"t":10.152,"r":1009},{"t":10.197,"r":1007},{"t":10.24,"r":1008},{"t":10.29,"r":1007},
{"t":9.346,"r":1003},{"t":9.383,"r":1002},{"t":9.412,"r":1004},{"t":9.452,"r":1003.5},{"t":9.479,"r":1002.5},{"t":9.517,"r":1004.5},{"t":9.546,"r":1001.5},{"t":9.586,"r":1003},{"t":9.617,"r":1004},{"t":9.655,"r":1002},{"t":9.684,"r":1003},{"t":9.72,"r":1002},{"t":9.758,"r":1004},{"t":9.785,"r":1003.5},{"t":9.823,"r":1002.5},{"t":9.855,"r":1004.5},{"t":9.892,"r":1001.5},{"t":9.922,"r":1003},{"t":9.964,"r":1004},{"t":10.009,"r":1002},{"t":10.054,"r":1003},{"t":10.099,"r":1002},{"t":10.144,"r":1004},{"t":10.19,"r":1002},{"t":10.24,"r":1003},
{"t":9.36,"r":997},{"t":9.397,"r":996},{"t":9.426,"r":998},{"t":9.466,"r":997.5},{"t":9.493,"r":996.5},{"t":9.531,"r":998.5},{"t":9.56,"r":995.5},{"t":9.6,"r":997},{"t":9.631,"r":998},{"t":9.669,"r":996},{"t":9.698,"r":997},{"t":9.734,"r":996},{"t":9.772,"r":998},{"t":9.799,"r":997.5},{"t":9.837,"r":996.5},{"t":9.869,"r":998.5},{"t":9.906,"r":995.5},{"t":9.936,"r":997},{"t":9.978,"r":998},{"t":10.023,"r":996},{"t":10.068,"r":997},{"t":10.113,"r":996},{"t":10.158,"r":998},{"t":10.2,"r":996},{"t":10.29,"r":997},
{"t":9.352,"r":992},{"t":9.389,"r":991},{"t":9.418,"r":993},{"t":9.458,"r":992.5},{"t":9.485,"r":991.5},{"t":9.523,"r":993.5},{"t":9.552,"r":990.5},{"t":9.592,"r":992},{"t":9.623,"r":993},{"t":9.661,"r":991},{"t":9.69,"r":992},{"t":9.726,"r":991},{"t":9.764,"r":993},{"t":9.791,"r":992.5},{"t":9.829,"r":991.5},{"t":9.861,"r":993.5},{"t":9.898,"r":990.5},{"t":9.928,"r":992},{"t":9.97,"r":993},{"t":10.015,"r":991},{"t":10.06,"r":992},{"t":10.105,"r":991},{"t":10.15,"r":993},{"t":10.19,"r":991},
{"t":9.358,"r":986},{"t":9.395,"r":985},{"t":9.424,"r":987},{"t":9.464,"r":986.5},{"t":9.491,"r":985.5},{"t":9.529,"r":987.5},{"t":9.558,"r":984.5},{"t":9.598,"r":986},{"t":9.629,"r":987},{"t":9.667,"r":985},{"t":9.696,"r":986},{"t":9.732,"r":985},{"t":9.77,"r":987},{"t":9.797,"r":986.5},{"t":9.835,"r":985.5},{"t":9.867,"r":987.5},{"t":9.904,"r":984.5},{"t":9.934,"r":986},{"t":9.976,"r":987},{"t":10.021,"r":985},{"t":10.066,"r":986},{"t":10.111,"r":985},{"t":10.156,"r":987},{"t":10.18,"r":985},
{"t":9.365,"r":981},{"t":9.402,"r":980},{"t":9.431,"r":982},{"t":9.471,"r":981.5},{"t":9.498,"r":980.5},{"t":9.536,"r":982.5},{"t":9.565,"r":979.5},{"t":9.605,"r":981},{"t":9.636,"r":982},{"t":9.674,"r":980},{"t":9.703,"r":981},{"t":9.739,"r":980},{"t":9.777,"r":982},{"t":9.804,"r":981.5},{"t":9.842,"r":980.5},{"t":9.874,"r":982.5},{"t":9.911,"r":979.5},{"t":9.941,"r":981},{"t":9.983,"r":982},{"t":10.028,"r":980},{"t":10.073,"r":981},{"t":10.118,"r":980},{"t":10.155,"r":982},
{"t":9.375,"r":975},{"t":9.412,"r":974},{"t":9.441,"r":976},{"t":9.481,"r":975.5},{"t":9.508,"r":974.5},{"t":9.546,"r":976.5},{"t":9.575,"r":973.5},{"t":9.615,"r":975},{"t":9.646,"r":976},{"t":9.684,"r":974},{"t":9.713,"r":975},{"t":9.749,"r":974},{"t":9.787,"r":976},{"t":9.814,"r":975.5},{"t":9.852,"r":974.5},{"t":9.884,"r":976.5},{"t":9.921,"r":973.5},{"t":9.951,"r":975},{"t":9.993,"r":976},{"t":10.038,"r":974},{"t":10.083,"r":975},{"t":10.13,"r":974},
{"t":9.378,"r":970},{"t":9.415,"r":969},{"t":9.444,"r":971},{"t":9.484,"r":970.5},{"t":9.511,"r":969.5},{"t":9.549,"r":971.5},{"t":9.578,"r":968.5},{"t":9.618,"r":970},{"t":9.649,"r":971},{"t":9.687,"r":969},{"t":9.716,"r":970},{"t":9.752,"r":969},{"t":9.79,"r":971},{"t":9.817,"r":970.5},{"t":9.855,"r":969.5},{"t":9.887,"r":971.5},{"t":9.924,"r":968.5},{"t":9.954,"r":970},{"t":9.996,"r":971},{"t":10.041,"r":969},{"t":10.086,"r":970},{"t":10.115,"r":969},
{"t":9.38,"r":964},{"t":9.417,"r":963},{"t":9.446,"r":965},{"t":9.486,"r":964.5},{"t":9.513,"r":963.5},{"t":9.551,"r":965.5},{"t":9.58,"r":962.5},{"t":9.62,"r":964},{"t":9.651,"r":965},{"t":9.689,"r":963},{"t":9.718,"r":964},{"t":9.754,"r":963},{"t":9.792,"r":965},{"t":9.819,"r":964.5},{"t":9.857,"r":963.5},{"t":9.889,"r":965.5},{"t":9.926,"r":962.5},{"t":9.956,"r":964},{"t":9.998,"r":965},{"t":10.043,"r":963},{"t":10.088,"r":964},
{"t":9.386,"r":959},{"t":9.423,"r":958},{"t":9.452,"r":960},{"t":9.492,"r":959.5},{"t":9.519,"r":958.5},{"t":9.557,"r":960.5},{"t":9.586,"r":957.5},{"t":9.626,"r":959},{"t":9.657,"r":960},{"t":9.695,"r":958},{"t":9.724,"r":959},{"t":9.76,"r":958},{"t":9.798,"r":960},{"t":9.825,"r":959.5},{"t":9.863,"r":958.5},{"t":9.895,"r":960.5},{"t":9.932,"r":957.5},{"t":9.962,"r":959},{"t":10.004,"r":960},{"t":10.049,"r":958},{"t":10.075,"r":959},
{"t":9.39,"r":953},{"t":9.427,"r":952},{"t":9.456,"r":954},{"t":9.496,"r":953.5},{"t":9.523,"r":952.5},{"t":9.561,"r":954.5},{"t":9.59,"r":951.5},{"t":9.63,"r":953},{"t":9.661,"r":954},{"t":9.699,"r":952},{"t":9.728,"r":953},{"t":9.764,"r":952},{"t":9.802,"r":954},{"t":9.829,"r":953.5},{"t":9.867,"r":952.5},{"t":9.899,"r":954.5},{"t":9.936,"r":951.5},{"t":9.966,"r":953},{"t":10.008,"r":954},{"t":10.05,"r":952},
{"t":9.395,"r":948},{"t":9.432,"r":947},{"t":9.461,"r":949},{"t":9.501,"r":948.5},{"t":9.528,"r":947.5},{"t":9.566,"r":949.5},{"t":9.595,"r":946.5},{"t":9.635,"r":948},{"t":9.666,"r":949},{"t":9.704,"r":947},{"t":9.733,"r":948},{"t":9.769,"r":947},{"t":9.807,"r":949},{"t":9.834,"r":948.5},{"t":9.872,"r":947.5},{"t":9.904,"r":949.5},{"t":9.941,"r":946.5},{"t":9.971,"r":948},{"t":10.013,"r":949},{"t":10.04,"r":947},
{"t":9.4,"r":939.5},{"t":9.442,"r":941},{"t":9.478,"r":938.5},{"t":9.523,"r":940.5},{"t":9.56,"r":938},{"t":9.603,"r":941.5},{"t":9.64,"r":939},{"t":9.684,"r":940.5},{"t":9.72,"r":938},{"t":9.763,"r":941},{"t":9.8,"r":939.5},{"t":9.844,"r":937.5},{"t":9.88,"r":940.5},{"t":9.924,"r":939},{"t":9.96,"r":941.5},{"t":10.004,"r":938.5},{"t":10.04,"r":940},
{"t":9.42,"r":934},{"t":9.462,"r":935.5},{"t":9.5,"r":933},{"t":9.543,"r":936},{"t":9.582,"r":932.5},{"t":9.624,"r":934.5},{"t":9.662,"r":933},{"t":9.705,"r":935.5},{"t":9.742,"r":934},{"t":9.785,"r":932},{"t":9.822,"r":935},{"t":9.865,"r":933.5},{"t":9.902,"r":936},{"t":9.946,"r":932.5},{"t":9.982,"r":934.5},{"t":10.024,"r":933},
{"t":9.425,"r":928},{"t":9.468,"r":929.5},{"t":9.505,"r":927},{"t":9.548,"r":930},{"t":9.585,"r":926.5},{"t":9.628,"r":928.5},{"t":9.665,"r":927},{"t":9.708,"r":929.5},{"t":9.745,"r":928},{"t":9.788,"r":926},{"t":9.825,"r":929},{"t":9.868,"r":927.5},{"t":9.905,"r":930},{"t":9.95,"r":926.5},{"t":9.985,"r":928.5},{"t":10.02,"r":927},
{"t":9.445,"r":922},{"t":9.49,"r":923.5},{"t":9.53,"r":921},{"t":9.575,"r":924},{"t":9.615,"r":920.5},{"t":9.66,"r":922.5},{"t":9.7,"r":921},{"t":9.745,"r":923.5},{"t":9.785,"r":922},{"t":9.83,"r":920},{"t":9.87,"r":923},{"t":9.915,"r":921.5},{"t":9.955,"r":924},{"t":9.995,"r":920.5},
{"t":9.46,"r":916},{"t":9.505,"r":917.5},{"t":9.55,"r":915},{"t":9.595,"r":918},{"t":9.64,"r":914.5},{"t":9.685,"r":916.5},{"t":9.73,"r":915},{"t":9.775,"r":917.5},{"t":9.82,"r":916},{"t":9.865,"r":914},{"t":9.91,"r":917},{"t":9.955,"r":915.5},{"t":9.99,"r":918},
{"t":9.48,"r":910},{"t":9.53,"r":911.5},{"t":9.58,"r":909},{"t":9.63,"r":912},{"t":9.68,"r":908.5},{"t":9.73,"r":910.5},{"t":9.78,"r":909},{"t":9.83,"r":911.5},{"t":9.88,"r":910},{"t":9.93,"r":908},
{"t":9.41,"r":937},{"t":9.452,"r":936},{"t":9.494,"r":938},{"t":9.536,"r":937.5},{"t":9.578,"r":936.5},{"t":9.62,"r":938},{"t":9.662,"r":936},{"t":9.704,"r":937},{"t":9.746,"r":938},{"t":9.788,"r":936.5},{"t":9.83,"r":937.5},{"t":9.872,"r":936},{"t":9.914,"r":938},{"t":9.956,"r":937},{"t":9.998,"r":936},{"t":10.03,"r":937.5},
{"t":9.425,"r":931},{"t":9.467,"r":930},{"t":9.509,"r":932},{"t":9.551,"r":931.5},{"t":9.593,"r":930.5},{"t":9.635,"r":932},{"t":9.677,"r":930},{"t":9.719,"r":931},{"t":9.761,"r":932},{"t":9.803,"r":930.5},{"t":9.845,"r":931.5},{"t":9.887,"r":930},{"t":9.929,"r":932},{"t":9.971,"r":931},{"t":10.01,"r":930},
{"t":9.44,"r":925},{"t":9.482,"r":924},{"t":9.524,"r":926},{"t":9.566,"r":925.5},{"t":9.608,"r":924.5},{"t":9.65,"r":926},{"t":9.692,"r":924},{"t":9.734,"r":925},{"t":9.776,"r":926},{"t":9.818,"r":924.5},{"t":9.86,"r":925.5},{"t":9.902,"r":924},{"t":9.944,"r":926},{"t":9.985,"r":925},
{"t":9.46,"r":919},{"t":9.505,"r":918},{"t":9.55,"r":920},{"t":9.595,"r":919.5},{"t":9.64,"r":918.5},{"t":9.685,"r":920},{"t":9.73,"r":918},{"t":9.775,"r":919},{"t":9.82,"r":920},{"t":9.865,"r":918.5},{"t":9.91,"r":919.5},{"t":9.955,"r":918},
{"t":9.49,"r":913},{"t":9.54,"r":912},{"t":9.59,"r":914},{"t":9.64,"r":913.5},{"t":9.69,"r":912.5},{"t":9.74,"r":914},{"t":9.79,"r":912},{"t":9.84,"r":913},{"t":9.89,"r":914},{"t":9.94,"r":912.5}
]},
"layer":[
{"data":{"name":"cloud"},
 "mark":{"type":"circle","size":36,"opacity":1,"fill":"#bdbdbd","fillOpacity":0.55,"stroke":"#ababab","strokeWidth":1},
 "encoding":{
  "x":{"field":"t","type":"quantitative","scale":{"domain":[8.864,10.673],"nice":false,"zero":false},
   "axis":{"orient":"bottom","values":[9,9.5,10,10.5],"format":".1f","tickSize":7,"tickColor":"#555555","tickWidth":1,"domainColor":"#858585","domainWidth":1.6,"labelFont":"Liberation Sans","labelFontSize":13.5,"labelColor":"#444444","labelPadding":12,"title":"Mean annual temperature (°C)","titleFont":"DejaVu Sans","titleFontSize":19.5,"titleFontWeight":"bold","titleColor":"#111111","titleX":228.7,"titleY":53,"titleAlign":"center","titleBaseline":"middle","grid":false}},
  "y":{"field":"r","type":"quantitative","scale":{"domain":[770,1166.3],"nice":false,"zero":false},
   "axis":{"values":[800,900,1000,1100],"format":"d","tickSize":7,"tickColor":"#555555","tickWidth":1,"domainColor":"#858585","domainWidth":1.6,"labelFont":"Liberation Sans","labelFontSize":13.5,"labelColor":"#444444","labelAngle":-90,"labelAlign":"center","labelBaseline":"bottom","labelPadding":10,"title":"Mean annual rainfall (mm)","titleFont":"DejaVu Sans","titleFontSize":19.5,"titleFontWeight":"bold","titleColor":"#111111","titleAngle":-90,"titleX":-50.5,"titleY":303.5,"titleAlign":"center","titleBaseline":"middle","grid":false}}
 }},
{"data":{"name":"panel"},
 "mark":{"type":"text","font":"DejaVu Sans","fontWeight":"bold","fontSize":17,"color":"#111111","align":"center","baseline":"middle"},
 "encoding":{
  "x":{"field":"t","type":"quantitative","axis":{"orient":"top","labels":false,"ticks":false,"domainColor":"#858585","domainWidth":1.6,"title":null,"grid":false}},
  "y":{"field":"r","type":"quantitative"},
  "text":{"field":"lab"}
 }},
{"data":{"name":"sites"},
 "mark":{"type":"square","size":70,"filled":true,"color":"#000000","opacity":1},
 "encoding":{"x":{"field":"t","type":"quantitative","axis":null},"y":{"field":"r","type":"quantitative"}}},
{"data":{"name":"sites"},
 "mark":{"type":"text","font":"Liberation Sans","fontWeight":"bold","fontSize":17,"color":"#000000","align":"center","baseline":"middle","dy":-14},
 "encoding":{"x":{"field":"t","type":"quantitative","axis":null},"y":{"field":"r","type":"quantitative"},"text":{"field":"site"}}},
{"data":{"name":"chpx"},
 "mark":{"type":"circle","size":40,"color":"#0000ee","opacity":1},
 "encoding":{"x":{"field":"t","type":"quantitative","axis":null},"y":{"field":"r","type":"quantitative"}}},
{"data":{"name":"chpx"},
 "mark":{"type":"text","font":"Liberation Sans","fontWeight":"bold","fontSize":17,"color":"#1a1ae6","align":"right","baseline":"middle","dx":-9},
 "encoding":{"x":{"field":"t","type":"quantitative","axis":null},"y":{"field":"r","type":"quantitative"},"text":{"field":"site"}}}
],
"resolve":{"axis":{"x":"independent"}}
}
